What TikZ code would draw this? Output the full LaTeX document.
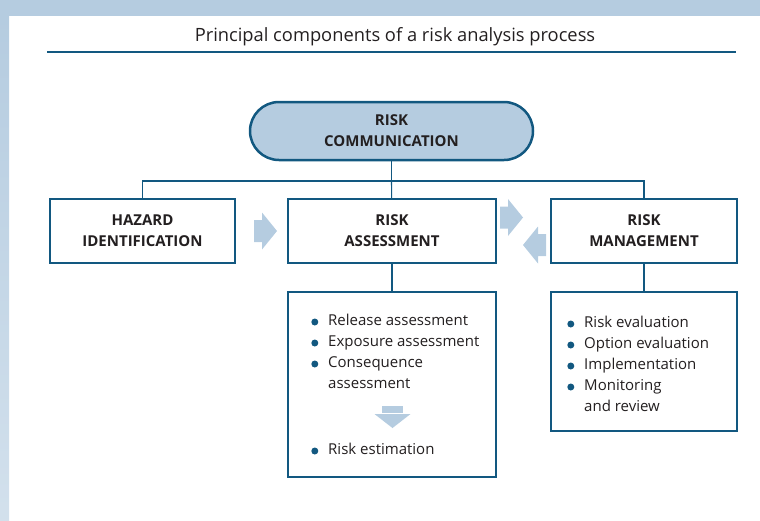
\documentclass[tikz,border=0pt]{standalone}
\usepackage{fontspec}
\setmainfont{Open Sans}
\usetikzlibrary{positioning,calc}
\definecolor{dblue}{RGB}{18,88,128}
\definecolor{lblue}{RGB}{181,204,224}
\definecolor{ink}{RGB}{35,31,32}
\tikzset{block/.style={draw=dblue,line width=2.2pt,fill=white,align=center,minimum height=64pt,font=\bfseries\fontsize{15}{21}\selectfont,text=ink},
  listbox/.style={draw=dblue,line width=1.8pt,fill=white},
  item/.style={anchor=west,inner sep=0pt,text height=11pt,text depth=3.5pt,font=\fontsize{15}{16}\selectfont,text=ink},
  bul/.style={item,label={[circle,fill=dblue,inner sep=0pt,minimum size=7pt,label distance=9.5pt]left:{}}},
  link/.style={draw=dblue,line width=1.1pt},
  rarr/.pic={\fill[lblue] (0,-11)--(8,-11)--(8,-18.5)--(23,0)--(8,18.5)--(8,11)--(0,11)--cycle;},
  darr/.pic={\fill[lblue] (-10.5,0)--(10.5,0)--(10.5,7)--(-10.5,7)--cycle;
    \fill[lblue] (-18,8)--(18,8)--(0,22)--cycle;}}

\begin{document}
\begin{tikzpicture}[x=1pt,y=-1pt]
% frame
\useasboundingbox (0,0) rectangle (760,520);
\fill[lblue] (0,0) rectangle (760,16);
\shade[top color=lblue,bottom color=lblue!60] (0,16) rectangle (9,520);
\node[font=\fontsize{18.3}{20}\selectfont,text=ink] (title) at (395,37) {Principal components of a risk analysis process};
\draw[dblue,line width=2.4pt] (47,52) -- (736,52);

\node[block,fill=lblue,rounded corners=29pt,line width=2.5pt,minimum width=283pt,minimum height=58pt] (comm) at (391.5,131) {RISK\\COMMUNICATION};
\node[block,minimum width=185pt] (hazard) at (142.5,231) {HAZARD\\IDENTIFICATION};
\node[block,minimum width=208pt] (assess) at (392,231) {RISK\\ASSESSMENT};
\node[block,minimum width=186pt] (mgmt) at (644,231) {RISK\\MANAGEMENT};
\coordinate (hub) at (391.5,181);
\draw[link] (comm) -- (hub);
\draw[link] (hazard.north) |- (hub) -| (mgmt.north);
\draw[link] (hub) -- (assess);

\pic (a1) at (254,231) {rarr};
\pic (a2) at (500,217.5) {rarr};
\pic[rotate=180] (a3) at (546,245) {rarr};

% details
\node[listbox,minimum width=208pt,minimum height=185pt] (alist) at (392,384.5) {};
\node[listbox,minimum width=186pt,minimum height=139pt] (mlist) at (644,361.5) {};
\draw[link] (assess) -- (alist);
\draw[link] (mgmt) -- (mlist);

\node[bul] (r1) at (328,322) {Release assessment};
\node[bul] (r2) at (328,343) {Exposure assessment};
\node[bul] (r3) at (328,364) {Consequence};
\node[item] (r4) at (328,385) {assessment};
\pic (a4) at (392.5,406) {darr};
\node[bul] (r5) at (328,451) {Risk estimation};

\node[bul] (m1) at (584,324) {Risk evaluation};
\node[bul] (m2) at (584,345) {Option evaluation};
\node[bul] (m3) at (584,366) {Implementation};
\node[bul] (m4) at (584,387) {Monitoring};
\node[item] (m5) at (584,408) {and review};
\end{tikzpicture}
\end{document}
